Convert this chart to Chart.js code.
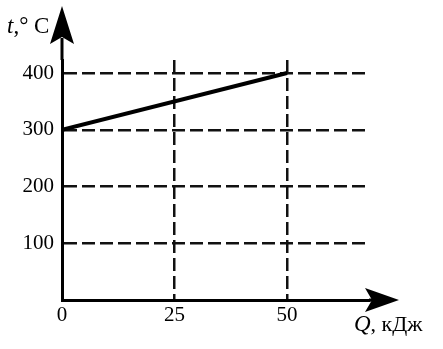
<!DOCTYPE html>
<html><head><meta charset="utf-8">
<script src="https://cdn.jsdelivr.net/npm/chart.js@4/dist/chart.umd.min.js"></script>
<style>html,body{margin:0;padding:0;background:#fff}#w{width:443px;height:349px}</style>
</head><body><div id="w"><canvas id="c"></canvas></div>
<script>
const heatQ = [0, 50];           // Q, кДж
const tempT = [300, 400];        // t, °C
const xTicks = [0, 25, 50];
const yTicks = [0, 100, 200, 300, 400];
const yLabel = ['t', ',° C'];
const xLabel = ['Q', ', кДж'];

const FONT = '"Liberation Serif", "DejaVu Serif", serif';

const decor = {
  id: 'decor',
  afterDraw(chart) {
    const ctx = chart.ctx, a = chart.chartArea;
    const x0 = chart.scales.x.getPixelForValue(0), y0 = chart.scales.y.getPixelForValue(0);
    ctx.save();
    ctx.fillStyle = '#000';
    // y arrow
    ctx.beginPath();
    ctx.moveTo(x0, 6);
    ctx.lineTo(x0 + 12, 44);
    ctx.lineTo(x0, 37);
    ctx.lineTo(x0 - 12, 44);
    ctx.closePath(); ctx.fill();
    ctx.strokeStyle = '#000'; ctx.lineWidth = 3;
    ctx.beginPath(); ctx.moveTo(x0, a.top); ctx.lineTo(x0, 38); ctx.stroke();
    // x arrow
    ctx.beginPath();
    ctx.moveTo(399, y0);
    ctx.lineTo(365, y0 - 12);
    ctx.lineTo(372, y0);
    ctx.lineTo(365, y0 + 12);
    ctx.closePath(); ctx.fill();
    ctx.beginPath(); ctx.moveTo(a.right, y0); ctx.lineTo(372, y0); ctx.stroke();
    // labels
    ctx.textBaseline = 'alphabetic';
    ctx.font = 'italic 23px ' + FONT;
    ctx.fillText(yLabel[0], 7, 33);
    let w = ctx.measureText(yLabel[0]).width;
    ctx.font = '23px ' + FONT;
    ctx.fillText(yLabel[1], 7 + w, 33);
    ctx.font = 'italic 23px ' + FONT;
    ctx.fillText(xLabel[0], 354, 331);
    w = ctx.measureText(xLabel[0]).width;
    ctx.font = '22px ' + FONT;
    ctx.fillText(xLabel[1], 354 + w, 331);
    ctx.restore();
  }
};

new Chart(document.getElementById('c'), {
  type: 'line',
  data: {
    datasets: [{
      data: heatQ.map((q, i) => ({x: q, y: tempT[i]})),
      borderColor: '#000',
      borderWidth: 4,
      pointRadius: 0,
      tension: 0
    }]
  },
  options: {
    responsive: true,
    maintainAspectRatio: false,
    animation: false,
    layout: {padding: {left: 0, right: 74, top: 60, bottom: 0}},
    plugins: {legend: {display: false}, tooltip: {enabled: false}},
    scales: {
      x: {
        type: 'linear', min: 0, max: 68.2,
        afterBuildTicks: s => { s.ticks = xTicks.map(v => ({value: v})); },
        afterFit: s => { s.height = 49; },
        ticks: {color: '#000', font: {family: FONT, size: 21}, padding: 3, maxRotation: 0},
        grid: {color: '#111', lineWidth: 2.5, drawTicks: false},
        border: {color: '#000', width: 3, dash: [13, 5]}
      },
      y: {
        type: 'linear', min: 0, max: 423,
        afterBuildTicks: s => { s.ticks = yTicks.map(v => ({value: v})); },
        afterFit: s => { s.width = 62; },
        ticks: {color: '#000', font: {family: FONT, size: 21}, padding: 8,
          callback: v => v === 0 ? '' : String(v)},
        grid: {color: '#111', lineWidth: 2.5, drawTicks: false},
        border: {color: '#000', width: 3, dash: [13, 5]}
      }
    }
  },
  plugins: [decor]
});
</script></body></html>
